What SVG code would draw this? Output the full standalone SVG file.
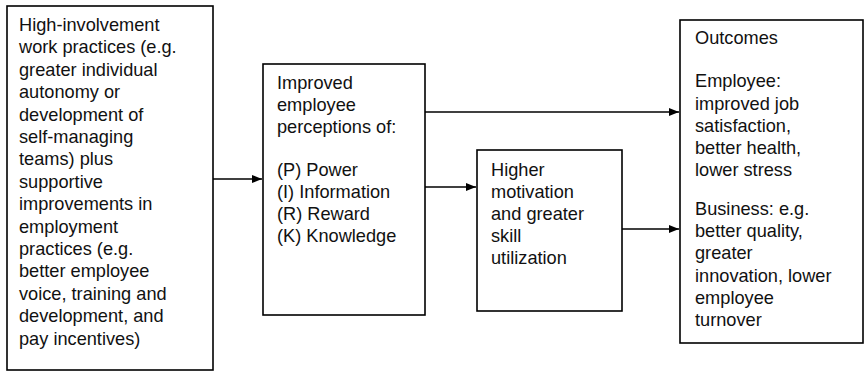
<svg xmlns="http://www.w3.org/2000/svg" width="865" height="372" viewBox="0 0 865 372">
<defs>
<marker id="arr" markerWidth="10" markerHeight="8" refX="10" refY="4" orient="auto" markerUnits="userSpaceOnUse">
<path d="M0,0 L10,4 L0,8 Z" fill="#000"/>
</marker>
<style>
.box{fill:#fff;stroke:#000;stroke-width:1.6}
.t{font-family:"Liberation Sans",Arial,sans-serif;font-size:18.2px;fill:#111}
.c{fill:none;stroke:#000;stroke-width:1.5}
</style>
</defs>
<rect width="865" height="372" fill="#fff"/>
<g id="node-practices">
<rect class="box" x="7" y="6" width="206" height="364"/>
<text class="t" x="19">
<tspan x="19" y="31">High-involvement</tspan>
<tspan x="19" y="53.4">work practices (e.g.</tspan>
<tspan x="19" y="75.8">greater individual</tspan>
<tspan x="19" y="98.2">autonomy or</tspan>
<tspan x="19" y="120.6">development of</tspan>
<tspan x="19" y="143">self-managing</tspan>
<tspan x="19" y="165.4">teams) plus</tspan>
<tspan x="19" y="187.8">supportive</tspan>
<tspan x="19" y="210.2">improvements in</tspan>
<tspan x="19" y="232.6">employment</tspan>
<tspan x="19" y="255">practices (e.g.</tspan>
<tspan x="19" y="277.4">better employee</tspan>
<tspan x="19" y="299.8">voice, training and</tspan>
<tspan x="19" y="322.2">development, and</tspan>
<tspan x="19" y="344.6">pay incentives)</tspan>
</text>
</g>
<g id="node-perceptions">
<rect class="box" x="263" y="64" width="162" height="251"/>
<text class="t">
<tspan x="277" y="89">Improved</tspan>
<tspan x="277" y="111">employee</tspan>
<tspan x="277" y="133">perceptions of:</tspan>
<tspan x="277" y="176">(P) Power</tspan>
<tspan x="277" y="198">(I) Information</tspan>
<tspan x="277" y="220">(R) Reward</tspan>
<tspan x="277" y="242">(K) Knowledge</tspan>
</text>
</g>
<g id="node-motivation">
<rect class="box" x="477" y="150" width="145" height="161"/>
<text class="t">
<tspan x="491" y="176">Higher</tspan>
<tspan x="491" y="198">motivation</tspan>
<tspan x="491" y="220">and greater</tspan>
<tspan x="491" y="242">skill</tspan>
<tspan x="491" y="264">utilization</tspan>
</text>
</g>
<g id="node-outcomes">
<rect class="box" x="680" y="20" width="183" height="323"/>
<text class="t">
<tspan x="695" y="44">Outcomes</tspan>
<tspan x="695" y="87">Employee:</tspan>
<tspan x="695" y="109.5">improved job</tspan>
<tspan x="695" y="131.5">satisfaction,</tspan>
<tspan x="695" y="153.5">better health,</tspan>
<tspan x="695" y="175.5">lower stress</tspan>
<tspan x="695" y="215">Business: e.g.</tspan>
<tspan x="695" y="237">better quality,</tspan>
<tspan x="695" y="259">greater</tspan>
<tspan x="695" y="281.5">innovation, lower</tspan>
<tspan x="695" y="304">employee</tspan>
<tspan x="695" y="326">turnover</tspan>
</text>
</g>
<g id="connectors">
<line class="c" x1="213" y1="179" x2="262" y2="179" marker-end="url(#arr)"/>
<line class="c" x1="425" y1="112" x2="679" y2="112" marker-end="url(#arr)"/>
<line class="c" x1="425" y1="187" x2="476" y2="187" marker-end="url(#arr)"/>
<line class="c" x1="622" y1="229" x2="679" y2="229" marker-end="url(#arr)"/>
</g>
</svg>
